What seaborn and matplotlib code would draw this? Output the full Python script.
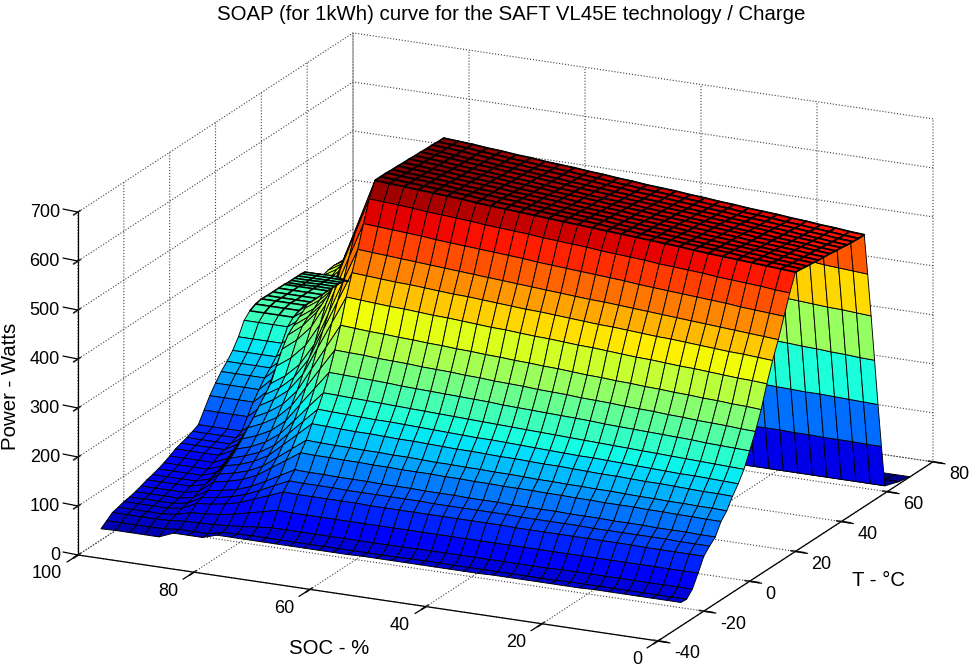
import numpy as np
import matplotlib
matplotlib.use('Agg')
import matplotlib.pyplot as plt
from matplotlib.lines import Line2D
import seaborn as sns
from mpl_toolkits.mplot3d import proj3d

# values
soc = [0, 2.5, 5, 7.5, 10, 12.5, 15, 17.5, 20, 22.5, 25, 27.5, 30, 32.5, 35, 37.5, 40, 42.5, 45, 47.5,
       50, 52.5, 55, 57.5, 60, 62.5, 65, 67.5, 70, 72.5, 75, 77.5, 80, 82.5, 85, 87.5, 90, 92.5, 95, 97.5, 100]
temp = [-30, -27.5, -25, -22.5, -20, -17.5, -15, -12.5, -10, -7.5, -5, -2.5, 0, 2.5, 5, 7.5, 10, 12.5, 15, 17.5,
        20, 22.5, 25, 27.5, 30, 32.5, 35, 37.5, 40, 42.5, 45, 47.5, 50, 51.5, 53, 54.5, 56, 57.5, 59, 65, 70]
soc_ticks = [0, 20, 40, 60, 80, 100]
temp_ticks = [-40, -20, 0, 20, 40, 60, 80]
power_ticks = [0, 100, 200, 300, 400, 500, 600, 700]

# one row per temperature, one column per SOC
power = [
    [48,48,48,48,48,48,48,47,47,47,47,47,47,47,46,46,46,46,46,46,46,46,46,45,45,45,45,45,45, 45,45,45,45,36,36,36,24,24,24,24,23],
    [47,47,47,47,47,47,47,47,47,46,46,46,46,46,46,46,46,46,46,46,45,45,45,45,45,45,45,45,45, 45,45,44,43,36,36,36,33,32,32,32,32],
    [60,60,60,60,60,60,60,60,60,60,59,59,59,59,59,59,59,59,59,59,58,58,58,58,58,58,58,58,58, 58,55,52,49,47,46,45,42,41,41,41,41],
    [85,85,85,85,85,85,85,85,85,85,85,85,85,85,85,85,85,85,85,85,85,85,85,85,85,85,85,85,85, 86,79,72,65,60,57,55,47,44,44,44,44],
    [112,112,112,112,112,113,113,113,113,113,113,113,113,113,114,114,114,114,114,114,114,114,114,114,115,115,115,115,115, 116,104,93,81,74,69,66,52,48,48,48,48],
    [125,125,125,126,126,126,126,126,126,127,127,127,127,127,128,128,128,128,128,128,129,129,129,129,129,129,130,130,130, 131,117,103,90,81,75,71,55,50,50,50,50],
    [136,136,137,137,137,138,138,138,139,139,139,140,140,140,140,141,141,141,142,142,142,143,143,143,144,144,144,145,145, 146,130,114,99,88,82,77,59,53,53,53,53],
    [160,160,161,161,162,162,163,163,163,164,164,165,165,166,166,166,167,167,168,168,169,169,169,170,170,171,171,172,172, 173,153,134,114,101,93,87,64,57,57,57,57],
    [174,175,175,176,176,177,177,178,179,179,180,180,181,181,182,183,183,184,184,185,185,186,187,187,188,188,189,189,190, 191,169,147,125,111,102,96,70,62,62,62,62],
    [196,197,197,198,199,200,200,201,202,202,203,204,205,205,206,207,207,208,209,209,210,211,212,212,213,214,214,215,216, 217,191,165,139,123,112,105,74,65,65,65,65],
    [214,215,216,217,217,218,219,220,221,222,223,223,224,225,226,227,228,229,229,230,231,232,233,234,235,235,236,237,238, 239,210,181,152,134,122,113,79,69,69,69,69],
    [236,237,238,239,240,241,242,243,244,245,246,247,248,249,250,251,252,253,254,255,256,257,258,259,260,261,262,263,264, 265,233,200,168,147,133,124,85,74,74,74,74],
    [266,267,268,269,271,272,273,274,275,276,277,279,280,281,282,283,284,285,287,288,289,290,291,292,293,295,296,297,298, 299,262,225,187,163,148,137,93,80,80,80,80],
    [298,299,301,302,303,305,306,308,309,310,312,313,314,316,317,318,320,321,322,324,325,327,328,329,331,332,333,335,336, 337,295,252,210,182,165,152,102,87,87,87,87],
    [335,337,338,340,341,343,344,346,347,349,350,352,353,355,357,358,360,361,363,364,366,367,369,370,372,373,375,376,378, 380,331,282,233,201,181,166,108,91,91,91,91],
    [380,382,383,385,387,389,390,392,394,395,397,399,401,402,404,406,407,409,411,412,414,416,418,419,421,423,424,426,428, 430,373,316,259,222,199,182,115,95,95,95,95],
    [420,422,424,425,427,429,431,433,434,436,438,440,441,443,445,447,449,450,452,454,456,458,459,461,463,465,466,468,470, 472,409,346,282,241,215,197,122,100,100,100,100],
    [455,457,459,461,463,465,467,469,471,473,475,477,479,480,482,484,486,488,490,492,494,496,498,500,502,504,506,508,510, 512,443,374,305,260,232,212,130,106,106,106,106],
    [495,497,499,501,504,506,508,510,512,514,516,519,521,523,525,527,529,531,534,536,538,540,542,544,546,549,551,553,555, 557,484,411,338,291,261,240,154,128,128,128,128],
    [535,537,540,542,544,546,549,551,553,555,558,560,562,564,567,569,571,573,576,578,580,582,585,587,589,591,594,596,598, 600,524,447,371,321,290,267,177,150,150,150,150],
    [570,572,574,576,578,580,582,584,587,589,591,593,595,597,599,601,603,605,607,609,611,613,615,618,620,622,624,626,628, 630,551,473,394,344,311,288,196,168,168,168,168],
    [569,571,573,575,577,580,582,584,586,588,590,592,594,596,599,601,603,605,607,609,611,613,615,618,620,622,624,626,628, 630,554,478,403,353,322,300,211,184,184,184,184],
    [567,569,571,574,576,578,580,582,584,587,589,591,593,595,598,600,602,604,606,608,611,613,615,617,619,622,624,626,628, 630,556,483,409,362,331,310,223,197,197,197,197],
    [566,568,570,573,575,577,579,581,583,586,588,590,592,594,597,599,601,603,605,607,610,612,614,616,618,621,623,625,627, 629,558,487,416,370,341,320,237,212,212,212,212],
    [564,566,569,571,573,575,578,580,582,584,587,589,591,593,596,598,600,602,605,607,609,611,614,616,618,620,623,625,627, 629,561,494,427,383,355,335,256,232,232,232,232],
    [563,565,568,570,572,574,577,579,581,583,586,588,590,592,595,597,599,601,604,606,608,610,613,615,617,619,622,624,626, 628,565,502,439,399,373,354,280,258,258,258,258],
    [562,564,567,569,571,573,576,578,580,583,585,587,589,592,594,596,599,601,603,605,608,610,612,615,617,619,621,624,626, 628,567,506,445,406,381,363,291,270,270,270,270],
    [560,562,565,567,569,572,574,576,579,581,583,586,588,590,593,595,597,599,602,604,606,609,611,613,616,618,620,623,625, 627,567,508,448,409,385,367,297,276,276,276,276],
    [559,561,564,566,568,571,573,576,578,580,583,585,587,590,592,594,597,599,601,604,606,609,611,613,616,618,620,623,625, 627,568,509,450,411,387,369,300,279,279,279,279],
    [557,559,562,564,567,569,571,574,576,579,581,583,586,588,590,593,595,598,600,602,605,607,610,612,614,617,619,621,624, 626,567,508,449,410,386,368,299,278,278,278,278],
    [556,558,561,563,566,568,571,573,575,578,580,583,585,588,590,592,595,597,600,602,605,607,609,612,614,617,619,622,624, 626,567,508,449,410,386,368,299,278,278,278,278],
    [555,557,560,562,565,567,570,572,574,577,579,582,584,587,589,591,594,596,599,601,604,606,608,611,613,616,618,621,623, 625,566,507,449,410,386,368,299,278,278,278,278],
    [555,557,560,562,565,567,570,572,574,577,579,582,584,587,589,591,594,596,599,601,604,606,608,611,613,616,618,621,623, 625,566,507,449,410,386,368,299,278,278,278,278],
    [470,472,474,476,479,481,483,485,487,489,491,494,496,498,500,502,504,506,509,511,513,515,517,519,521,524,526,528,530, 532,510,480,430,400,380,360,295,278,278,277,277],
    [380,382,384,385,387,389,391,393,394,396,398,400,401,403,405,407,409,410,412,414,416,418,419,421,423,425,426,428,430, 432,420,410,395,375,360,345,290,278,278,277,277],
    [285,286,288,289,291,292,294,295,296,298,299,301,302,304,305,306,308,309,311,312,314,315,316,318,319,321,322,324,325, 327,325,322,320,318,315,312,285,278,278,277,277],
    [190,191,192,193,194,194,195,196,197,198,199,200,201,202,202,203,204,205,206,207,208,209,210,210,211,212,213,214,215, 217,225,235,245,255,265,270,275,277,277,277,277],
    [100,100,101,101,101,102,102,103,103,103,104,104,104,105,105,105,106,106,106,107,107,108,108,108,109,109,109,110,110, 112,120,140,170,200,230,255,270,276,277,277,277],
    [15,15,15,15,15,15,15,15,15,15,15,15,15,15,15,15,15,15,15,15,15,15,15,15,15,15,15,15,15, 15,15,30,60,100,150,200,245,270,277,276,276],
    [5,5,5,5,5,5,5,5,5,5,5,5,5,5,5,5,5,5,5,5,5,5,5,5,5,5,5,5,5, 5,5,5,5,5,10,15,20,30,40,50,60],
    [0,0,0,0,0,0,0,0,0,0,0,0,0,0,0,0,0,0,0,0,0,0,0,0,0,0,0,0,0, 0,0,0,0,0,0,0,0,0,0,0,0],
]

W, H = 969, 668

sns.set_theme(style='white', rc={'axes.grid': True, 'grid.linestyle': ':', 'grid.color': '0.25',
                                 'grid.linewidth': 0.8, 'axes.linewidth': 0.9, 'axes.edgecolor': 'black',
                                 'text.color': 'black'})
plt.rcParams['font.family'] = ['Liberation Sans', 'DejaVu Sans']

fig = plt.figure(figsize=(W / 100, H / 100), dpi=100)
ax = fig.add_axes([0, 0, H / W, 1], projection='3d', proj_type='ortho')
ax.computed_zorder = False
ax.view_init(elev=18.1, azim=-64.5)
ax.set_box_aspect((642.6, 638.8, 360.8))

soc_arr, temp_arr, power_arr = np.array(soc), np.array(temp), np.array(power, dtype=float)
xx, yy = np.meshgrid(soc_arr, temp_arr)
style = dict(rstride=1, cstride=1, cmap='jet', vmin=0, vmax=630, edgecolor='black', shade=False)
ax.plot_surface(xx, yy, power_arr, linewidth=0.65, zorder=2, **style)
# the flat tops look darker, the lines sit closer there
ax.plot_surface(xx[20:33, :30], yy[20:33, :30], power_arr[20:33, :30], linewidth=1.3, zorder=3, **style)
ax.plot_surface(xx[26:39, 37:], yy[26:39, 37:], power_arr[26:39, 37:], linewidth=1.1, zorder=3, **style)

ax.set_xlim(100, 0)
ax.set_ylim(-40, 80)
ax.set_zlim(0, 700)
ax.set_xticks(soc_ticks)
ax.set_yticks(temp_ticks)
ax.set_zticks(power_ticks)
ax.set_xticklabels([])
ax.set_yticklabels([])
ax.set_zticklabels([])
ax.zaxis.set_ticks_position('lower')

for axis in (ax.xaxis, ax.yaxis, ax.zaxis):
    axis.pane.fill = False
    axis.pane.set_edgecolor('none')


def to_px(x, y, z):
    px, py, _ = proj3d.proj_transform(x, y, z, ax.get_proj())
    return ax.transData.transform((px, py))


# fit the box on the axis corners of the picture
ax.apply_aspect()
p0, p1 = to_px(100, -40, 0), to_px(0, 80, 0)
size = ax.get_position().width * W * (933 - 78) / (p1[0] - p0[0])
ax.set_position([0, 0, size / W, size / H])
ax.apply_aspect()
p0 = to_px(100, -40, 0)
ax.set_position([(78 - p0[0]) / W, (H - 555 - p0[1]) / H, size / W, size / H])
ax.apply_aspect()


def tick_label(point, text, dx, dy, ha, mark):
    px, py = to_px(*point)
    fig.add_artist(Line2D([px / W, (px + mark[0]) / W], [py / H, (py + mark[1]) / H],
                          color='black', linewidth=0.9, transform=fig.transFigure))
    fig.text((px + dx) / W, (py + dy) / H, text, ha=ha, va='center', fontsize=13)


for s in soc_ticks:
    tick_label((s, -40, 0), str(s), -16, -19, 'right', (-11, -7))
for t in temp_ticks:
    tick_label((0, t, 0), str(t), 16, -13, 'left', (12, -2))
for p in power_ticks:
    tick_label((100, -40, p), str(p), -18, 0, 'right', (-15, 3))

fig.text(511 / W, 1 - 14 / H, 'SOAP (for 1kWh) curve for the SAFT VL45E technology / Charge',
         ha='center', va='center', fontsize=14.7)
fig.text(329 / W, 1 - 648 / H, 'SOC - %', ha='center', va='center', fontsize=14.7)
fig.text(878 / W, 1 - 580 / H, 'T - °C', ha='center', va='center', fontsize=14.7)
fig.text(11 / W, 1 - 386 / H, 'Power - Watts', ha='center', va='center', rotation=90, fontsize=14.7)

fig.savefig('out.png', dpi=100)
